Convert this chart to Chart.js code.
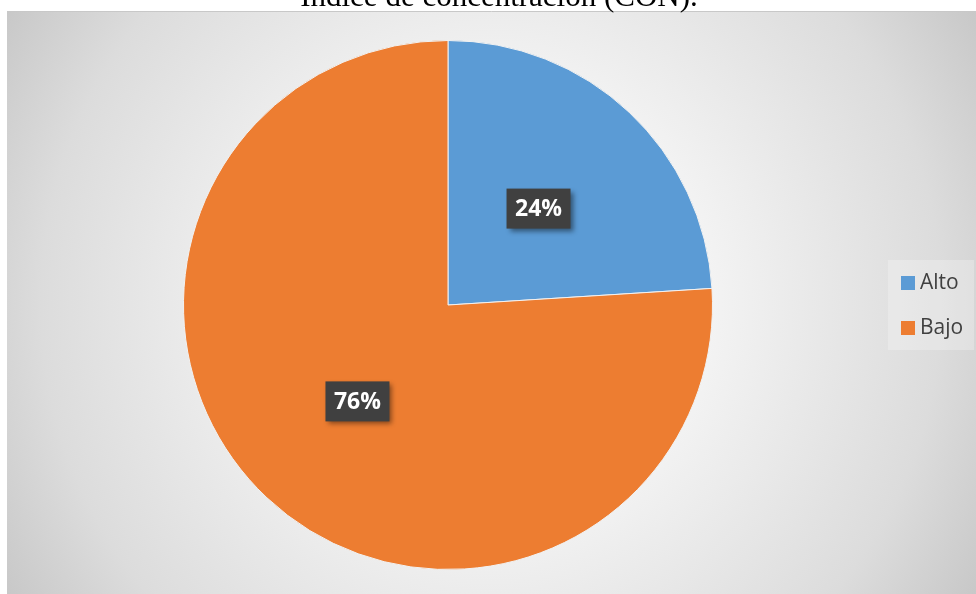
<!DOCTYPE html>
<html lang="es">
<head>
    <meta charset="UTF-8">
    <title>Índice de concentración (CON).</title>
    <script src="https://cdn.jsdelivr.net/npm/chart.js@4.4.1/dist/chart.umd.min.js"></script>
    <style>
        html, body { margin: 0; padding: 0; background: #ffffff; }
        #wrap { width: 976px; height: 594px; position: relative; }
    </style>
</head>
<body>
    <div id="wrap">
        <canvas id="pieChart" width="976" height="594"></canvas>
    </div>

    <script>
        // datos del gráfico
        const categorias = ['Alto', 'Bajo'];
        const valores = [24, 76];
        const colores = ['#5b9bd5', '#ed7d31'];
        const titulo = 'Índice de concentración (CON).';

        // fondo con degradado radial + título cortado arriba
        const fondoPlugin = {
            id: 'fondo',
            beforeDraw(chart) {
                const ctx = chart.ctx;
                ctx.save();
                ctx.fillStyle = '#ffffff';
                ctx.fillRect(0, 0, chart.width, chart.height);
                const g = ctx.createRadialGradient(491, 302, 0, 491, 302, 600);
                g.addColorStop(0, '#ffffff');
                g.addColorStop(0.3, '#f7f7f7');
                g.addColorStop(0.75, '#dcdcdc');
                g.addColorStop(1, '#c2c2c2');
                ctx.fillStyle = g;
                ctx.fillRect(7, 11, chart.width - 7, chart.height - 11);
                ctx.strokeStyle = '#c8c8c8';
                ctx.lineWidth = 1;
                ctx.beginPath();
                ctx.moveTo(7, 11.5);
                ctx.lineTo(chart.width, 11.5);
                ctx.stroke();

                ctx.fillStyle = '#000000';
                ctx.font = '31px "Liberation Serif", "Times New Roman", serif';
                ctx.textAlign = 'center';
                ctx.textBaseline = 'alphabetic';
                ctx.fillText(titulo, 499, 6);
                ctx.restore();
            }
        };

        // etiquetas de porcentaje en cajas oscuras + leyenda a la derecha
        const etiquetasPlugin = {
            id: 'etiquetas',
            afterDatasetsDraw(chart) {
                const ctx = chart.ctx;
                const meta = chart.getDatasetMeta(0);
                const total = valores.reduce((a, b) => a + b, 0);
                ctx.save();
                meta.data.forEach((arc, i) => {
                    const p = arc.getCenterPoint();
                    const txt = Math.round(valores[i] / total * 100) + '%';
                    const w = 64, h = 40;
                    ctx.shadowColor = 'rgba(0,0,0,0.45)';
                    ctx.shadowBlur = 5;
                    ctx.shadowOffsetX = 3;
                    ctx.shadowOffsetY = 3;
                    ctx.fillStyle = '#404040';
                    ctx.fillRect(p.x - w / 2, p.y - h / 2, w, h);
                    ctx.shadowColor = 'transparent';
                    ctx.fillStyle = '#ffffff';
                    ctx.font = 'bold 23px "Open Sans", sans-serif';
                    ctx.textAlign = 'center';
                    ctx.textBaseline = 'middle';
                    ctx.fillText(txt, p.x, p.y + 1);
                });

                // leyenda
                ctx.fillStyle = 'rgba(255,255,255,0.25)';
                ctx.fillRect(888, 260, 86, 90);
                ctx.font = '21px "Open Sans", sans-serif';
                ctx.textAlign = 'left';
                ctx.textBaseline = 'middle';
                categorias.forEach((c, i) => {
                    const y = 283 + i * 45;
                    ctx.fillStyle = colores[i];
                    ctx.fillRect(901, y - 7, 14, 14);
                    ctx.fillStyle = '#404040';
                    ctx.fillText(c, 920, y);
                });
                ctx.restore();
            }
        };

        new Chart(document.getElementById('pieChart'), {
            type: 'pie',
            data: {
                labels: categorias,
                datasets: [{
                    data: valores,
                    backgroundColor: colores,
                    borderColor: '#f2f2f2',
                    borderWidth: 1
                }]
            },
            options: {
                responsive: false,
                animation: false,
                layout: {
                    padding: { left: 183, right: 263, top: 40, bottom: 24 }
                },
                plugins: {
                    legend: { display: false },
                    title: { display: false },
                    tooltip: { enabled: false }
                }
            },
            plugins: [fondoPlugin, etiquetasPlugin]
        });
    </script>
</body>
</html>
